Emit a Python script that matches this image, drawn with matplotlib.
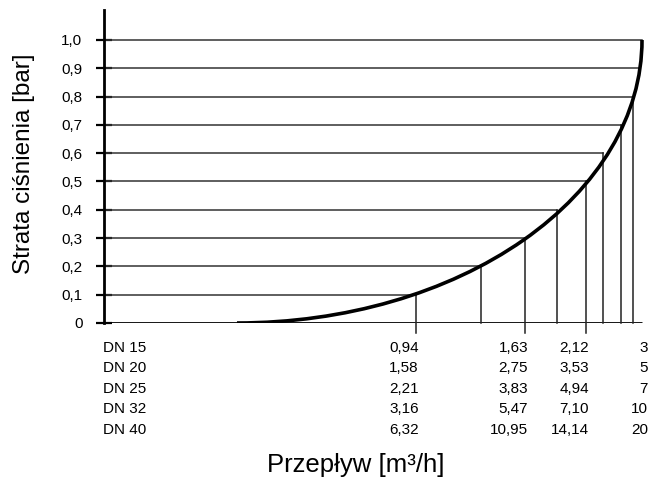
import matplotlib
matplotlib.use("Agg")
import matplotlib.pyplot as plt
from matplotlib.patches import Arc

# Pressure loss levels [bar] and where the curve meets them (schematic x position)
levels = [0.1, 0.2, 0.3, 0.4, 0.5, 0.6, 0.7, 0.8, 0.9, 1.0]
curve_x = [312, 377, 421, 453, 482, 499, 517, 529, 535, 538]
curve_start = 133

# Flow table [m3/h] for each pipe size, read at 0.1 / 0.3 / 0.5 / 1.0 bar
label_levels = [0.1, 0.3, 0.5, 1.0]
dn_names = ["DN 15", "DN 20", "DN 25", "DN 32", "DN 40"]
flows = [["0,94", "1,63", "2,12", "3"],
         ["1,58", "2,75", "3,53", "5"],
         ["2,21", "3,83", "4,94", "7"],
         ["3,16", "5,47", "7,10", "10"],
         ["6,32", "10,95", "14,14", "20"]]

ytick_labels = ["0", "0,1", "0,2", "0,3", "0,4", "0,5", "0,6", "0,7", "0,8", "0,9", "1,0"]

plt.rcParams['font.family'] = ['Liberation Sans', 'DejaVu Sans']

fig = plt.figure(figsize=(6.48, 4.79), dpi=100)
ax = fig.add_axes([97 / 648, 156 / 479, 551 / 648, 313 / 479])
ax.set_xlim(-7, 544)
ax.set_ylim(0, 1.106)

# Axes: only the left spine, x axis drawn as a line
for side in ["top", "right", "bottom"]:
    ax.spines[side].set_visible(False)
ax.spines["left"].set_position(("data", 0))
ax.spines["left"].set_linewidth(2.0)
ax.set_xticks([])
ax.set_yticks([0] + levels)
ax.set_yticklabels(ytick_labels, fontsize=11)
ax.tick_params(axis="y", direction="inout", length=11, width=1.6, pad=10)

ax.plot([-7, curve_x[-1]], [0, 0], color="black", lw=2.0, solid_capstyle="butt")

# Horizontal lines from the axis to the curve, vertical lines down from the curve
for lev, cx in zip(levels, curve_x):
    ax.plot([0, cx], [lev, lev], color="#333333", lw=1.1)
    if lev < 0.9:
        bottom = -0.035 if lev in label_levels else 0
        ax.plot([cx, cx], [bottom, lev], color="#222222", lw=1.1, clip_on=False)

# Pressure loss curve
arc = Arc((curve_start, 1.0), 2 * (curve_x[-1] - curve_start), 2.0,
          theta1=270, theta2=360, color="black", lw=2.6, zorder=5)
ax.add_patch(arc)

# Flow table under the x axis
row_y = [-0.088 - 0.0725 * i for i in range(len(dn_names))]
col_x = [curve_x[levels.index(lev)] + 3 for lev in label_levels]
col_x[-1] += 3
for i, name in enumerate(dn_names):
    ax.text(-1, row_y[i], name, fontsize=11, ha="left", va="center", clip_on=False)
    for j, val in enumerate(flows[i]):
        ax.text(col_x[j], row_y[i], val, fontsize=11, ha="right", va="center", clip_on=False)

fig.text(356 / 648, 1 - 465 / 479, "Przepływ [m³/h]", fontsize=18.5, ha="center", va="center")
fig.text(24 / 648, 1 - 164 / 479, "Strata ciśnienia [bar]", fontsize=17.5,
         ha="center", va="center", rotation=90)

fig.savefig("out.png", dpi=100)
